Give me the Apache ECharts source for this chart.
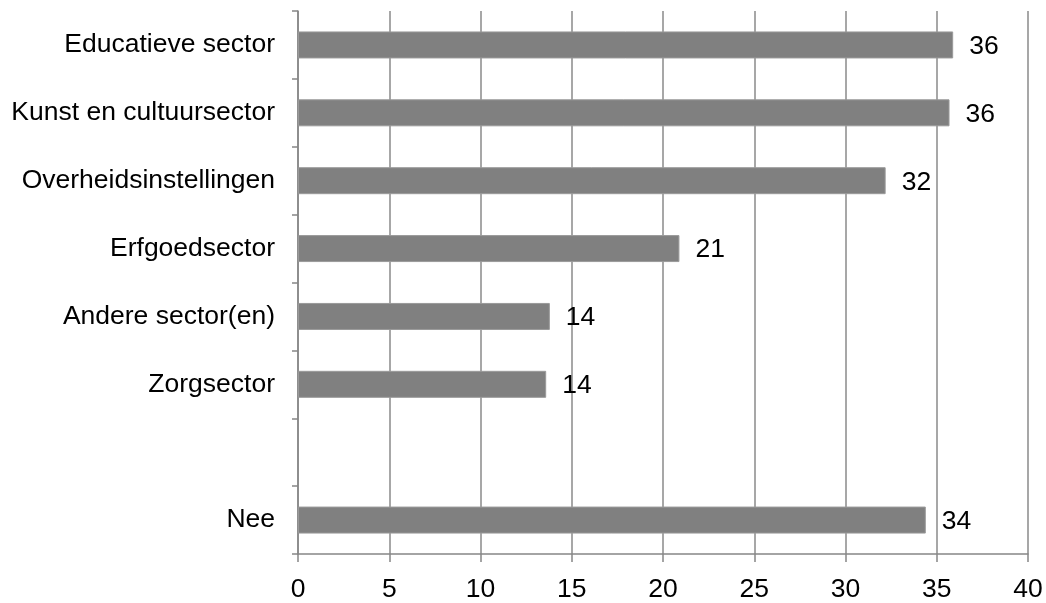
<!DOCTYPE html>
<html>
<head>
<meta charset="utf-8">
<script src="https://cdn.jsdelivr.net/npm/echarts@6/dist/echarts.min.js"></script>
<style>
html,body{margin:0;padding:0;background:#fff;}
#chart{width:1046px;height:603px;}
</style>
</head>
<body>
<div id="chart"></div>
<script>
var categories = ['Educatieve sector','Kunst en cultuursector','Overheidsinstellingen','Erfgoedsector','Andere sector(en)','Zorgsector','','Nee'];
var values = [35.9, 35.7, 32.2, 20.9, 13.8, 13.6, null, 34.4];
var xTicks = [0, 5, 10, 15, 20, 25, 30, 35, 40];

var chart = echarts.init(document.getElementById('chart'), null, {renderer:'canvas'});
var font = "'Liberation Sans', Arial, sans-serif";
chart.setOption({
  animation: false,
  backgroundColor: '#fff',
  grid: {left: 298, right: 18, top: 11, bottom: 45, containLabel: false},
  xAxis: {
    type: 'value',
    min: xTicks[0], max: xTicks[xTicks.length-1], interval: 5,
    axisLine: {show: true, lineStyle: {color: '#868686', width: 1.5}},
    axisTick: {show: true, length: 8, lineStyle: {color: '#868686', width: 1.5}},
    splitLine: {show: true, lineStyle: {color: '#8a8a8a', width: 1.5}},
    axisLabel: {fontFamily: font, fontSize: 26.5, color: '#000', margin: 22}
  },
  yAxis: {
    type: 'category',
    data: categories,
    inverse: true,
    axisLine: {show: true, lineStyle: {color: '#868686', width: 1.5}},
    axisTick: {show: true, length: 6, alignWithLabel: false, lineStyle: {color: '#868686', width: 1.5}},
    splitLine: {show: false},
    axisLabel: {fontFamily: font, fontSize: 26.5, color: '#000', margin: 23}
  },
  series: [{
    type: 'bar',
    data: values,
    barWidth: 27,
    itemStyle: {color: '#808080', borderColor: '#9a9a9a', borderWidth: 1},
    label: {
      show: true, position: 'right', distance: 16, offset: [0, 1.5],
      fontFamily: font, fontSize: 26.5, color: '#000',
      formatter: function(p){ return Math.round(p.value); }
    }
  }]
});
</script>
</body>
</html>
